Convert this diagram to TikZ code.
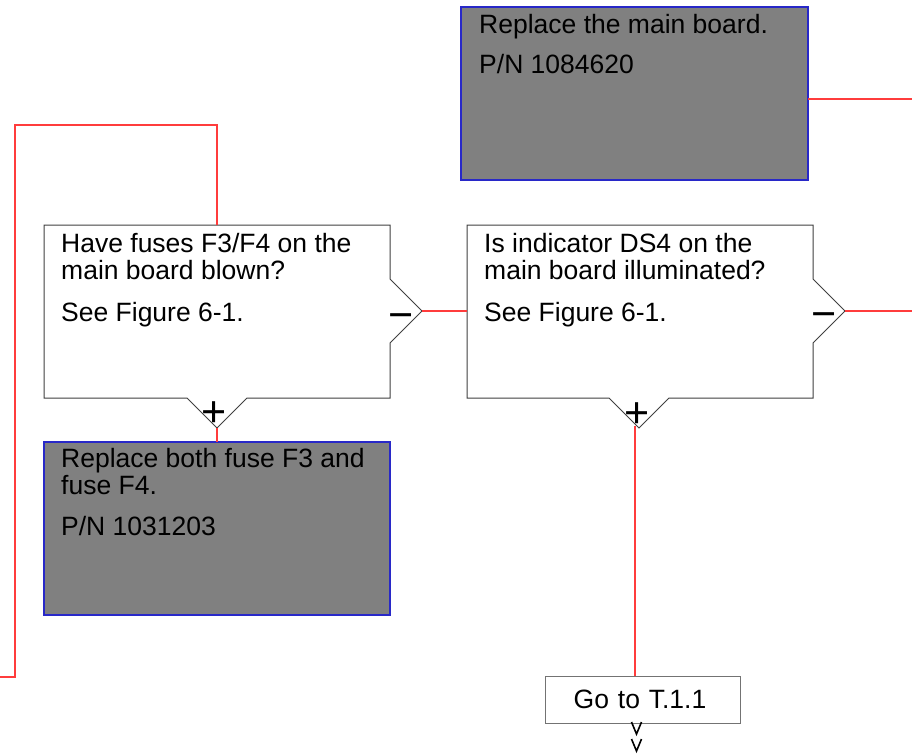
\documentclass[tikz,border=0pt]{standalone}
\usepackage{fontspec}
\setmainfont{Liberation Sans}
\definecolor{wirered}{RGB}{255,60,60}
\definecolor{edgeblue}{RGB}{40,40,200}
\begin{document}
\begin{tikzpicture}[x=1pt,y=-1pt,
  txt/.style={anchor=base west, inner sep=0pt, font=\fontsize{26.5}{27}\selectfont},
  sym/.style={anchor=base, inner sep=0pt, font=\fontsize{43}{43}\selectfont},
  qbox/.style={draw=black!75, line width=1pt, fill=white},
  abox/.style={draw=edgeblue, line width=1.3pt, fill=gray},
  gobox/.style={draw=black!55, line width=1pt, fill=white, minimum width=195pt, minimum height=47pt, inner sep=0pt, font=\fontsize{26.5}{27}\selectfont},
  wire/.style={draw=wirered, line width=1.3pt},
  chev/.style={draw=black, line width=1.6pt},
]
\useasboundingbox (0,0) rectangle (912,754);

% named points
\coordinate (q1top) at (217,225);
\coordinate (q1tip) at (217,428);
\coordinate (q1right) at (422,311);
\coordinate (q2left) at (467,311);
\coordinate (q2right) at (845,311);
\coordinate (q2tip) at (635,426);
\coordinate (a1right) at (808,99);
\coordinate (a2top) at (217,442);
\coordinate (loopA) at (217,125);
\coordinate (loopB) at (15,125);
\coordinate (loopC) at (15,677);
\coordinate (exitL) at (0,677);
\coordinate (exitR1) at (912,99);
\coordinate (exitR2) at (912,311);

% action box top
\path[abox] (461,7) rectangle (808,180);
\node[txt] (a1l1) at (479,34) {Replace the main board.};
\node[txt] (a1l2) at (479,74) {P/N 1084620};

% decision box 1
\path[qbox] (44,225) -- (390,225) -- (390,279) -- (q1right) -- (390,343) -- (390,398)
  -- (247,398) -- (q1tip) -- (187,398) -- (44,398) -- cycle;
\node[txt] (q1l1) at (61,252) {Have fuses F3/F4 on the};
\node[txt] (q1l2) at (61,279) {main board blown?};
\node[txt] (q1l3) at (61,321) {See Figure 6-1.};
\node[sym] (q1minus) at (401,329) {−};
\node[sym] (q1plus) at (214,426) {+};

% decision box 2
\path[qbox] (467,225) -- (813,225) -- (813,279) -- (q2right) -- (813,343) -- (813,398)
  -- (669,398) -- (639,428) -- (609,398) -- (467,398) -- cycle;
\node[txt] (q2l1) at (484,252) {Is indicator DS4 on the};
\node[txt] (q2l2) at (484,279) {main board illuminated?};
\node[txt] (q2l3) at (484,321) {See Figure 6-1.};
\node[sym] (q2minus) at (824,328) {−};
\node[sym] (q2plus) at (637,427) {+};

% action box 2
\path[abox] (44,442) rectangle (390,615);
\node[txt] (a2l1) at (61,467) {Replace both fuse F3 and};
\node[txt] (a2l2) at (61,494) {fuse F4.};
\node[txt] (a2l3) at (61,535) {P/N 1031203};

% go to box
\node[gobox, text width=195pt, align=center] (goto) at (642.5,699.5) {\hspace*{-5pt}Go to T.1.1};

% connectors
\draw[wire] (q1top) -- (loopA) -- (loopB) -- (loopC) -- (exitL);
\draw[wire] (q1tip) -- (a2top);
\draw[wire] (q1right) -- (q2left);
\draw[wire] (q2right) -- (exitR2);
\draw[wire] (a1right) -- (exitR1);
\draw[wire] (q2tip) -- (goto.north -| q2tip);

% continuation chevrons
\coordinate (c1) at (636.5,734);
\coordinate (c2) at (636.5,751);
\draw[chev] (631.5,722) -- (c1) -- (641.5,722);
\draw[chev] (631.5,739) -- (c2) -- (641.5,739);
\end{tikzpicture}
\end{document}
